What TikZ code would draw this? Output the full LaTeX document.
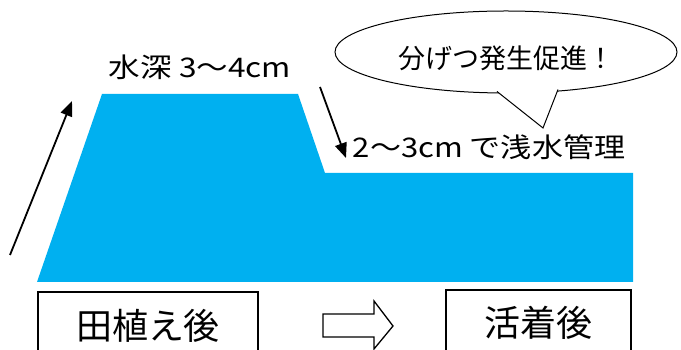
\documentclass[tikz,border=0pt]{standalone}
\usepackage{fontspec}
\usepackage{graphicx}
\setmainfont{Noto Sans CJK JP}
\usetikzlibrary{arrows.meta,shapes.geometric}
\definecolor{water}{HTML}{00B0F0}
\tikzset{
  lbl/.style={inner sep=0pt, font=\fontsize{27}{27}\selectfont},
  stage/.style={draw=black, line width=1.3pt, minimum width=220pt, minimum height=68pt, inner sep=0pt, font=\fontsize{36}{36}\selectfont},
  flow/.style={line width=1.8pt, -{Triangle[length=15pt,width=12pt]}},
}
\begin{document}
\begin{tikzpicture}[x=1pt,y=1pt]
\clip (0,0) rectangle (681,350);
\fill[white] (0,0) rectangle (681,350);
% water
\fill[water] (37,68) -- (102,256) -- (298,256) -- (325,177) -- (633,177) -- (633,68) -- cycle;
% labels
\node[lbl] (deep) at (200,283) {\scalebox{1.17}[1]{水深 3～4cm}};
\node[lbl] (shallow) at (489,203) {\scalebox{1.15}[1]{2～3cm で浅水管理}};
% callout
\node[draw=black, line width=1pt, fill=white, ellipse, minimum width=342pt, minimum height=82pt, inner sep=0pt] (bubble) at (506,298) {};
\coordinate (t1) at (497,258.5);
\coordinate (tip) at (543,222);
\coordinate (t2) at (558,260.5);
\fill[white] (495,262) -- (t1) -- (tip) -- (t2) -- (560,264) -- cycle;
\draw[line width=1pt, line join=miter] (t1) -- (tip) -- (t2);
\node[lbl, font=\fontsize{27}{27}\selectfont] (bubtext) at (506,292) {分げつ発生促進！};
% arrows
\coordinate (a1s) at (10,95);
\coordinate (a1e) at (72,249);
\draw[flow] (a1s) -- (a1e);
\coordinate (a2s) at (320,263);
\coordinate (a2e) at (346,192);
\draw[flow] (a2s) -- (a2e);
% stage boxes
\node[stage] (before) at (148,24) {田植え後};
\node[stage, minimum width=185pt, minimum height=66pt] (after) at (538.5,27) {活着後};
% hollow arrow
\draw[line width=1.3pt, line join=miter, fill=white] (323,36) -- (374,36) -- (374,49) -- (393,24) -- (374,1) -- (374,13) -- (323,13) -- cycle;
\end{tikzpicture}
\end{document}
